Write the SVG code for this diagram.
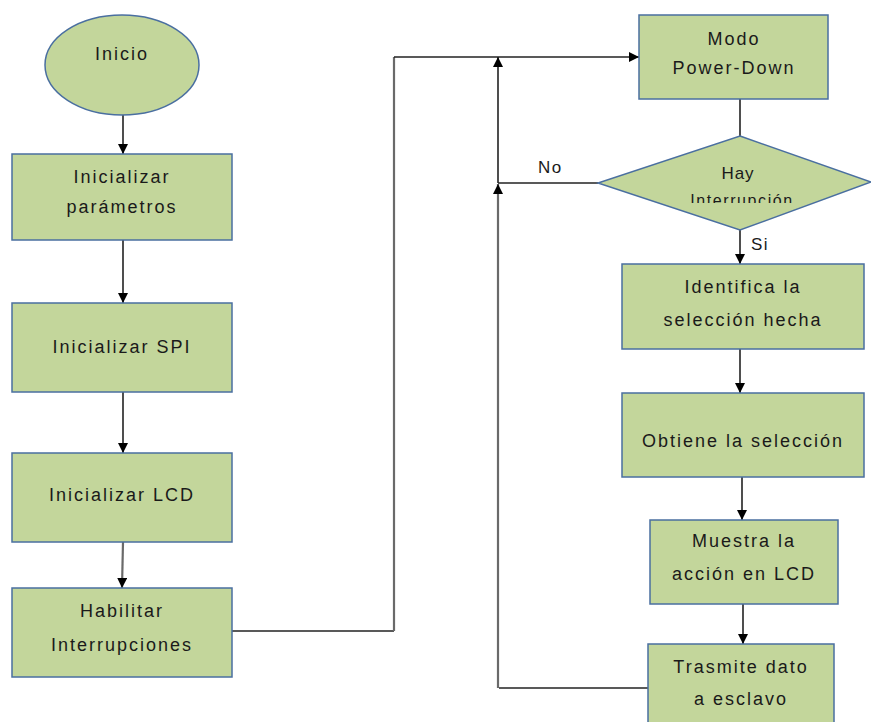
<svg xmlns="http://www.w3.org/2000/svg" width="871" height="722" viewBox="0 0 871 722">
<defs>
<style>
.box{fill:#c3d69b;stroke:#4a6fa0;stroke-width:1.5}
.t{font-family:"Liberation Sans",Arial,sans-serif;font-size:18px;fill:#1a1a1a;text-anchor:middle;letter-spacing:2px}
.lbl{font-family:"Liberation Sans",Arial,sans-serif;font-size:17px;fill:#1a1a1a;letter-spacing:1.5px}
.ln{fill:none;stroke:#222;stroke-width:1.6}
.lg{fill:none;stroke:#6a6a6a;stroke-width:2.2}
</style>
<marker id="ah" viewBox="0 0 10 10" refX="10" refY="5" markerWidth="10" markerHeight="10" markerUnits="userSpaceOnUse" orient="auto">
<path d="M0,0 L10,5 L0,10 z" fill="#000"/>
</marker>
<clipPath id="dclip"><rect x="560" y="130" width="320" height="73"/></clipPath>
</defs>
<rect width="871" height="722" fill="#fff"/>
<g id="connectors">
<path class="ln" d="M123,115 V154" marker-end="url(#ah)"/>
<path class="ln" d="M123,240 V303" marker-end="url(#ah)"/>
<path class="ln" d="M123,392 V453" marker-end="url(#ah)"/>
<path class="lg" d="M123,542 L122,588" marker-end="url(#ah)"/>
<path class="ln" d="M232,631 H394"/>
<path class="lg" d="M394,631 V57"/>
<path class="ln" d="M394,57 H639" marker-end="url(#ah)"/>
<path class="ln" d="M740,99 V136"/>
<path class="ln" d="M598,183 H498"/>
<path class="ln" d="M498,183 V57" marker-end="url(#ah)"/>
<path class="ln" d="M648,688 H499"/>
<path class="lg" d="M498,688 V184" marker-end="url(#ah)"/>
<path class="ln" d="M740,230 V264" marker-end="url(#ah)"/>
<path class="ln" d="M740,349 V393" marker-end="url(#ah)"/>
<path class="ln" d="M742,477 V520" marker-end="url(#ah)"/>
<path class="ln" d="M743,604 V644" marker-end="url(#ah)"/>
<text class="lbl" x="538" y="173">No</text>
<text class="lbl" x="751" y="250">Si</text>
</g>
<g id="inicio">
<ellipse class="box" cx="122" cy="65" rx="77" ry="50"/>
<text class="t" x="122" y="60">Inicio</text>
</g>
<g id="init-param">
<rect class="box" x="12" y="154" width="220" height="86"/>
<text class="t" x="122" y="183">Inicializar</text>
<text class="t" x="122" y="213">parámetros</text>
</g>
<g id="init-spi">
<rect class="box" x="12" y="303" width="220" height="89"/>
<text class="t" x="122" y="353">Inicializar SPI</text>
</g>
<g id="init-lcd">
<rect class="box" x="12" y="453" width="220" height="89"/>
<text class="t" x="122" y="501">Inicializar LCD</text>
</g>
<g id="habilitar">
<rect class="box" x="12" y="588" width="220" height="89"/>
<text class="t" x="122" y="617">Habilitar</text>
<text class="t" x="122" y="651">Interrupciones</text>
</g>
<g id="modo">
<rect class="box" x="639" y="15" width="189" height="84"/>
<text class="t" x="734" y="45">Modo</text>
<text class="t" x="734" y="74">Power-Down</text>
</g>
<g id="decision">
<polygon class="box" points="740,136 871,182 740,230 598,183"/>
<text class="t" x="738" y="179" style="font-size:17px;letter-spacing:1px">Hay</text>
<text class="t" x="742" y="206" clip-path="url(#dclip)" style="font-size:16px;letter-spacing:1.6px">Interrupción</text>
</g>
<g id="identifica">
<rect class="box" x="622" y="264" width="242" height="85"/>
<text class="t" x="743" y="293">Identifica la</text>
<text class="t" x="743" y="326">selección hecha</text>
</g>
<g id="obtiene">
<rect class="box" x="622" y="393" width="242" height="84"/>
<text class="t" x="743" y="447">Obtiene la selección</text>
</g>
<g id="muestra">
<rect class="box" x="650" y="520" width="188" height="84"/>
<text class="t" x="744" y="547">Muestra la</text>
<text class="t" x="744" y="580">acción en LCD</text>
</g>
<g id="trasmite">
<rect class="box" x="648" y="644" width="186" height="90"/>
<text class="t" x="741" y="673">Trasmite dato</text>
<text class="t" x="741" y="705">a esclavo</text>
</g>
</svg>
